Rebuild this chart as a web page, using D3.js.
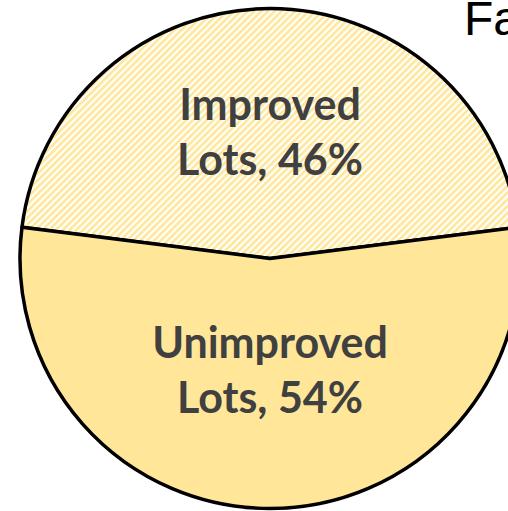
<!DOCTYPE html>
<html>
<head>
<meta charset="utf-8">
<script src="https://cdn.jsdelivr.net/npm/d3@7"></script>
<style>
  body { margin: 0; background: #fff; overflow: hidden; }
</style>
</head>
<body>
<script>
// pie data
var categories = ["Improved Lots", "Unimproved Lots"];
var shares = [46, 54];
var labelLines = [["Improved", "Lots, 46%"], ["Unimproved", "Lots, 54%"]];
var titleText = "Fa";

var svgWidth = 508, svgHeight = 511;
var cx = 270, cy = 258.5, radius = 250;

var svg = d3.select("body").append("svg")
    .attr("width", svgWidth)
    .attr("height", svgHeight);

// hatch pattern for the improved slice
var defs = svg.append("defs");
var pat = defs.append("pattern")
    .attr("id", "hatch")
    .attr("patternUnits", "userSpaceOnUse")
    .attr("width", 4.8)
    .attr("height", 4.8)
    .attr("patternTransform", "rotate(45)");
pat.append("rect").attr("width", 4.8).attr("height", 4.8).attr("fill", "#fff");
pat.append("rect").attr("width", 2.6).attr("height", 4.8).attr("fill", "#FFE699");

var fills = ["url(#hatch)", "#FFE699"];

var pie = d3.pie()
    .sort(null)
    .startAngle(-Math.PI * 0.46)
    .endAngle(Math.PI * 2 - Math.PI * 0.46);

var arc = d3.arc().innerRadius(0).outerRadius(radius);

var chartGroup = svg.append("g").attr("transform", `translate(${cx}, ${cy})`);

var arcs = pie(shares);

chartGroup.selectAll("path")
    .data(arcs)
    .enter()
    .append("path")
    .attr("d", arc)
    .attr("fill", (d, i) => fills[i])
    .attr("stroke", "#000")
    .attr("stroke-width", 3.5)
    .attr("stroke-linejoin", "round");

// labels
var labelArc = d3.arc().innerRadius(radius * 0.475).outerRadius(radius * 0.475);
var lineGap = 55;

arcs.forEach(function(d, i) {
    var c = labelArc.centroid(d);
    var t = chartGroup.append("text")
        .attr("text-anchor", "middle")
        .attr("font-family", "Lato, 'Liberation Sans', sans-serif")
        .attr("font-weight", "bold")
        .attr("font-size", 43)
        .attr("fill", "#404040");
    labelLines[i].forEach(function(line, j) {
        t.append("tspan")
            .attr("x", c[0])
            .attr("y", c[1] + (j - 0.5) * lineGap + 8)
            .text(line);
    });
});

// title (cut off at the right edge)
svg.append("text")
    .attr("x", 464)
    .attr("y", 35)
    .attr("font-family", "'Liberation Sans', Arial, sans-serif")
    .attr("font-size", 48)
    .attr("fill", "#000")
    .text(titleText);
</script>
</body>
</html>
